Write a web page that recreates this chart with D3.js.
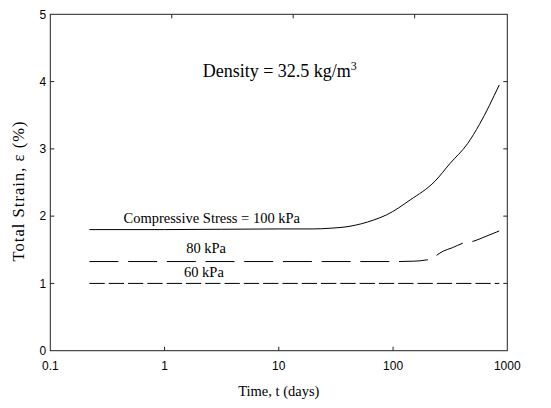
<!DOCTYPE html>
<html>
<head>
<meta charset="utf-8">
<script src="https://cdn.jsdelivr.net/npm/d3@7"></script>
<style>
  body { margin: 0; background: #fff; }
  .tick-label { font-family: "Liberation Sans", Arial, sans-serif; font-size: 12px; fill: #000; }
  .serif { font-family: "Liberation Serif", "Times New Roman", serif; fill: #000; }
</style>
</head>
<body>
<svg width="551" height="408"></svg>
<script>
// Tick values for both axes
const xTicks = [0.1, 1, 10, 100, 1000];
const xTickLabels = ["0.1", "1", "10", "100", "1000"];
const yTicks = [0, 1, 2, 3, 4, 5];

// Curves: [time (days), total strain (%)]
const stress100 = [[0.22, 1.80], [1, 1.80], [10, 1.81], [20, 1.81], [28, 1.82], [42, 1.85],
    [67, 1.94], [88, 2.02], [141, 2.24], [233, 2.52], [314, 2.78], [450, 3.08], [569, 3.36], [850, 3.95]];
const stress80 = [[0.22, 1.325], [10, 1.325], [100, 1.325], [150, 1.33], [198, 1.35], [215, 1.37],
    [236, 1.41], [275, 1.48], [330, 1.53], [412, 1.60], [511, 1.63], [650, 1.70], [850, 1.78]];
const stress60 = [[0.22, 1.0], [10, 1.0], [850, 1.0]];

// Text annotations, placed in data units
const annotations = [
    { t: 2.59, e: 1.898, text: "Compressive Stress = 100 kPa" },
    { t: 2.31, e: 1.459, text: "80 kPa" },
    { t: 2.21, e: 1.10, text: "60 kPa" }
];

const svg = d3.select("svg"),
    margin = { top: 14.3, right: 43.7, bottom: 57.3, left: 50.3 },
    width = +svg.attr("width") - margin.left - margin.right,
    height = +svg.attr("height") - margin.top - margin.bottom;

const g = svg.append("g").attr("transform", `translate(${margin.left},${margin.top})`);

const x = d3.scaleLog().domain([0.1, 1000]).range([0, width]);
const y = d3.scaleLinear().domain([0, 5]).range([height, 0]);
// the top axis ticks in the original sit on a slightly wider spacing
const xTop = d3.scaleLog().domain([0.1, 1000]).range([0, width * 1.063]);

// Frame
g.append("rect")
    .attr("width", width)
    .attr("height", height)
    .attr("fill", "none")
    .attr("stroke", "#222")
    .attr("stroke-width", 1);

const tickLen = 4;

// Bottom ticks + labels
g.selectAll(".xtick")
    .data(xTicks.slice(1, -1))
    .enter().append("line")
    .attr("x1", d => x(d)).attr("x2", d => x(d))
    .attr("y1", height).attr("y2", height - tickLen)
    .attr("stroke", "#222");

g.selectAll(".xlabel")
    .data(xTicks)
    .enter().append("text")
    .attr("class", "tick-label")
    .attr("x", d => x(d))
    .attr("y", height + 19)
    .attr("text-anchor", "middle")
    .text((d, i) => xTickLabels[i]);

// Top ticks
g.selectAll(".xtoptick")
    .data(xTicks.slice(1, -1))
    .enter().append("line")
    .attr("x1", d => xTop(d)).attr("x2", d => xTop(d))
    .attr("y1", 0).attr("y2", tickLen)
    .attr("stroke", "#222");

// Left and right ticks
g.selectAll(".ytick")
    .data(yTicks.slice(1, -1))
    .enter().append("line")
    .attr("x1", 0).attr("x2", tickLen)
    .attr("y1", d => y(d)).attr("y2", d => y(d))
    .attr("stroke", "#222");

g.selectAll(".ytickr")
    .data(yTicks.slice(1, -1))
    .enter().append("line")
    .attr("x1", width).attr("x2", width - tickLen)
    .attr("y1", d => y(d)).attr("y2", d => y(d))
    .attr("stroke", "#222");

g.selectAll(".ylabel")
    .data(yTicks)
    .enter().append("text")
    .attr("class", "tick-label")
    .attr("x", -4)
    .attr("y", d => y(d))
    .attr("dy", "0.35em")
    .attr("text-anchor", "end")
    .text(d => d);

// Axis titles
g.append("text")
    .attr("class", "serif")
    .attr("x", width / 2)
    .attr("y", height + 45)
    .attr("text-anchor", "middle")
    .style("font-size", "14.5px")
    .text("Time, t (days)");

g.append("text")
    .attr("class", "serif")
    .attr("transform", "rotate(-90)")
    .attr("x", -(height / 2 + 9))
    .attr("y", -26)
    .attr("text-anchor", "middle")
    .attr("textLength", 140)
    .attr("lengthAdjust", "spacing")
    .style("font-size", "16.5px")
    .text("Total Strain, \u03B5 (%)");

// Curves
const line = d3.line()
    .x(d => x(d[0]))
    .y(d => y(d[1]))
    .curve(d3.curveMonotoneX);

g.append("path")
    .datum(stress100)
    .attr("fill", "none")
    .attr("stroke", "#000")
    .attr("stroke-width", 1)
    .attr("d", line);

g.append("path")
    .datum(stress80)
    .attr("fill", "none")
    .attr("stroke", "#000")
    .attr("stroke-width", 1)
    .attr("stroke-dasharray", "29,9.7")
    .attr("d", line);

g.append("path")
    .datum(stress60)
    .attr("fill", "none")
    .attr("stroke", "#000")
    .attr("stroke-width", 1)
    .attr("stroke-dasharray", "15.3,4")
    .attr("d", line);

// Curve labels
g.selectAll(".annot")
    .data(annotations)
    .enter().append("text")
    .attr("class", "serif")
    .attr("x", d => x(d.t))
    .attr("y", d => y(d.e))
    .attr("text-anchor", "middle")
    .style("font-size", "14.5px")
    .text(d => d.text);

// Density label
const dens = g.append("text")
    .attr("class", "serif")
    .attr("x", x(10.2))
    .attr("y", y(4.07))
    .attr("text-anchor", "middle")
    .style("font-size", "18px");
dens.append("tspan").text("Density = 32.5 kg/m");
dens.append("tspan")
    .attr("dy", -7)
    .style("font-size", "12px")
    .text("3");
</script>
</body>
</html>
